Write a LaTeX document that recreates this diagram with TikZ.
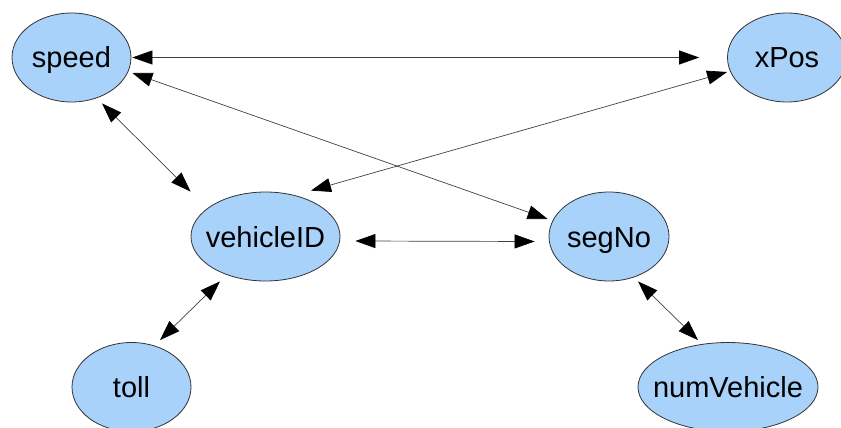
\documentclass[tikz,border=0pt]{standalone}
\usepackage{fontspec}
\setmainfont{Liberation Sans}
\usetikzlibrary{shapes.geometric,arrows.meta,calc}
\definecolor{bubblue}{RGB}{168,210,250}
\tikzset{
  bub/.style={ellipse,draw=black!80,line width=0.8pt,fill=bubblue,inner ysep=0pt,inner xsep=-14pt,
    minimum height=89pt,font=\fontsize{29}{34}\selectfont,text height=21pt,text depth=0pt},
  link/.style={{Triangle[length=20pt,width=14pt,color=black]}-{Triangle[length=20pt,width=14pt,color=black]},
    draw=black!75,line width=0.7pt}
}
\begin{document}
\begin{tikzpicture}[x=1pt,y=-1pt]
  \useasboundingbox (0,0) rectangle (841,428);
  \node[bub,minimum width=119pt] (speed) at (71.5,57.5) {speed};
  \node[bub,minimum width=119pt] (xPos) at (787,57.5) {xPos};
  \node[bub,minimum width=149pt] (vehicleID) at (265.5,236.5) {vehicleID};
  \node[bub,minimum width=120pt] (segNo) at (609,236.5) {segNo};
  \node[bub,minimum width=119pt] (toll) at (131.5,387) {toll};
  \node[bub,minimum width=180pt] (numVehicle) at (728,387) {numVehicle};

  \draw[link] ($(speed.east)+(1,0)$)--($(xPos.west)+(-28,0)$);
  \draw[link] ($(speed.east)+(1,15.5)$)--($(segNo.west)+(-1,-17.5)$);
  \draw[link] ($(speed.south)+(30.5,1)$)--(vehicleID.west |- vehicleID.north);
  \draw[link] ($(xPos.west)+(0,14.5)$)--($(vehicleID.north)+(45.5,-1)$);
  \draw[link] ($(vehicleID.east)+(15,4.5)$)--($(segNo.west)+(-14,5)$);
  \draw[link] ($(vehicleID.south)+(-45.5,0)$)--($(toll.north)+(28.5,-2)$);
  \draw[link] ($(segNo.south)+(29,0)$)--($(numVehicle.north)+(-30,-2)$);
\end{tikzpicture}
\end{document}
